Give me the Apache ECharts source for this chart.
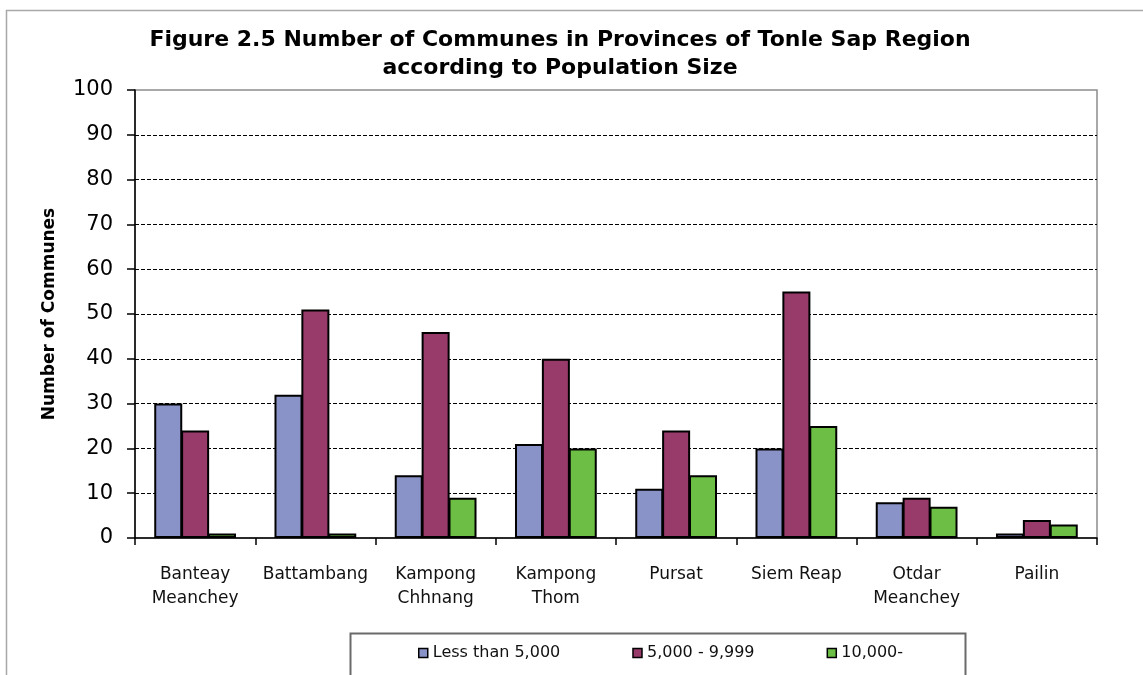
<!DOCTYPE html>
<html>
<head>
<meta charset="utf-8">
<script src="https://cdn.jsdelivr.net/npm/echarts@6/dist/echarts.min.js"></script>
<style>
html,body{margin:0;padding:0;background:#fff;}
#chart{width:1143px;height:675px;}
</style>
</head>
<body>
<div id="chart"></div>
<script>
var categories = ['Banteay\nMeanchey', 'Battambang', 'Kampong\nChhnang', 'Kampong\nThom', 'Pursat', 'Siem Reap', 'Otdar\nMeanchey', 'Pailin'];
var seriesNames = ['Less than 5,000', '5,000 - 9,999', '10,000-'];
var lessThan5000 = [30, 32, 14, 21, 11, 20, 8, 1];
var from5000to9999 = [24, 51, 46, 40, 24, 55, 9, 4];
var over10000 = [1, 1, 9, 20, 14, 25, 7, 3];
var yTicks = [0, 10, 20, 30, 40, 50, 60, 70, 80, 90, 100];

var colors = ['#8a93c8', '#983b6b', '#6cbe44'];
var values = [lessThan5000, from5000to9999, over10000];

var chart = echarts.init(document.getElementById('chart'));
var font = 'DejaVu Sans';

var series = seriesNames.map(function (name, i) {
  return {
    name: name,
    type: 'bar',
    data: values[i],
    barGap: '-4%',
    barCategoryGap: '32%',
    itemStyle: { color: colors[i], borderColor: '#000', borderWidth: 2 },
    emphasis: { disabled: true }
  };
});

chart.setOption({
  animation: false,
  backgroundColor: '#fff',
  title: {
    text: 'Figure 2.5 Number of Communes in Provinces of Tonle Sap Region\naccording to Population Size',
    left: 560,
    textAlign: 'center',
    top: 26,
    padding: 0,
    textStyle: { fontFamily: font, fontWeight: 'bold', fontSize: 22, lineHeight: 28, color: '#000' }
  },
  grid: {
    left: 135, right: 46, top: 90, bottom: 137,
    show: true, borderColor: '#8c8c8c', borderWidth: 1.5, backgroundColor: 'transparent'
  },
  legend: {
    left: 418,
    top: 645,
    itemGap: 72,
    itemWidth: 9,
    itemHeight: 9,
    icon: 'rect',
    padding: 0,
    itemStyle: { borderColor: '#000', borderWidth: 1.5 },
    textStyle: { fontFamily: font, fontSize: 16, color: '#111' },
    selectedMode: false
  },
  graphic: [
    { type: 'rect', left: 4, top: 8, shape: { width: 1300, height: 800 }, style: { fill: 'none', stroke: '#a8a8a8', lineWidth: 1.5 }, silent: true, z: -1 },
    { type: 'rect', left: 348, top: 631, shape: { width: 615, height: 100 }, style: { fill: 'none', stroke: '#6a6a6a', lineWidth: 2 }, silent: true, z: -1 }
  ],
  xAxis: {
    type: 'category',
    data: categories,
    axisLine: { lineStyle: { color: '#000', width: 1.5 } },
    axisTick: { show: true, length: 7, lineStyle: { color: '#000', width: 1.5 } },
    axisLabel: { fontFamily: font, fontSize: 17, lineHeight: 24, color: '#111', margin: 25, interval: 0 }
  },
  yAxis: {
    type: 'value',
    min: yTicks[0],
    max: yTicks[yTicks.length - 1],
    interval: 10,
    name: 'Number of Communes',
    nameLocation: 'middle',
    nameGap: 77,
    nameRotate: 90,
    nameTextStyle: { fontFamily: font, fontWeight: 'bold', fontSize: 17, color: '#000' },
    axisLine: { show: true, lineStyle: { color: '#000', width: 1.5 } },
    axisTick: { show: true, length: 8, lineStyle: { color: '#000', width: 1.5 } },
    axisLabel: { fontFamily: font, fontSize: 21, color: '#000', margin: 22 },
    splitLine: { show: true, showMinLine: false, showMaxLine: false, lineStyle: { color: '#000', width: 1, type: [4, 2] } }
  },
  series: series
});
</script>
</body>
</html>
